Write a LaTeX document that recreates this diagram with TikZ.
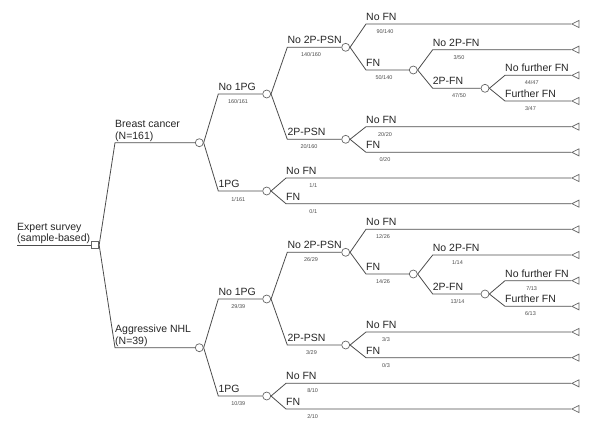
\documentclass[tikz,border=0pt]{standalone}
\usepackage{fontspec}
\setmainfont{Liberation Sans}
\usetikzlibrary{shapes.geometric}
\tikzset{
  x=1pt, y=-1pt,
  edge/.style={draw=black!70, line width=0.8pt},
  chance/.style={circle, draw=black!60, fill=white, line width=0.7pt, minimum size=8pt, inner sep=0pt},
  decis/.style={rectangle, draw=black!60, fill=white, line width=0.7pt, minimum size=7pt, inner sep=0pt},
  leaf/.style={isosceles triangle, isosceles triangle stretches, shape border rotate=180, draw=black!60, fill=white, line width=0.7pt, minimum width=7pt, minimum height=7pt, inner sep=0pt},
  lbl/.style={font=\fontsize{10.5}{11.5}\selectfont, text=black!85, inner sep=0pt},
  frac/.style={font=\fontsize{5.5}{6}\selectfont, text=black!70, inner sep=0pt},
}
% #1 parent, #2 name, #3 x, #4 y, #5 target anchor, #6 label, #7 fraction, #8 fx, #9 fy
\newcommand\tbr[9]{%
  \coordinate (#2) at (#3,#4);
  \draw[edge] (#1.east) -- (#2) -- (#5);
  \node[lbl, anchor=base west] (#2-l) at (#3,#4-3.5) {#6};
  \node[frac] (#2-f) at (#8,#9) {#7};
}
\begin{document}
\begin{tikzpicture}
\useasboundingbox (0,0) rectangle (600,432);
% decision node
\coordinate (r0) at (17,245);
\node[decis] (root) at (95.3,245) {};
\draw[edge] (r0) -- (root.west);
\node[lbl, anchor=base west] (rt1) at (17,230) {Expert survey};
\node[lbl, anchor=base west] (rt2) at (17,241.5) {(sample-based)};
% chance nodes
\node[chance] (bc) at (199.3,142.7) {};
\node[chance] (nhl) at (199.3,347.7) {};
\node[chance] (b1) at (266.7,94) {};
\node[chance] (b2) at (266.7,191) {};
\node[chance] (b11) at (345.7,47.3) {};
\node[chance] (b12) at (345.7,139.3) {};
\node[chance] (b112) at (413.3,70) {};
\node[chance] (b1122) at (485,88.3) {};
\node[chance] (n1) at (266.7,299) {};
\node[chance] (n2) at (266.7,396) {};
\node[chance] (n11) at (345.7,252.3) {};
\node[chance] (n12) at (345.7,345) {};
\node[chance] (n112) at (413.3,274) {};
\node[chance] (n1122) at (485,294) {};
% terminal nodes
\foreach \i in {1,...,16}{
  \node[leaf, anchor=apex] (L\i) at (571,{24+(\i-1)*25.667}) {};
}
% first level
\coordinate (s-bc) at (115,142.7);
\draw[edge] (root.east) -- (s-bc) -- (bc.west);
\node[lbl, anchor=base west] (bc-l1) at (115,127.7) {Breast cancer};
\node[lbl, anchor=base west] (bc-l2) at (115,139.2) {(N=161)};
\coordinate (s-nhl) at (115,347.7);
\draw[edge] (root.east) -- (s-nhl) -- (nhl.west);
\node[lbl, anchor=base west] (nhl-l1) at (115,332.7) {Aggressive NHL};
\node[lbl, anchor=base west] (nhl-l2) at (115,344.2) {(N=39)};
% breast cancer
\tbr{bc}{s-b1}{218.3}{94}{b1.west}{No 1PG}{160/161}{238}{101.7}
\tbr{bc}{s-b2}{218.3}{191}{b2.west}{1PG}{1/161}{238.3}{199.5}
\tbr{b1}{s-b11}{287.3}{47.3}{b11.west}{No 2P-PSN}{140/160}{311}{54.8}
\tbr{b1}{s-b12}{287.3}{139.3}{b12.west}{2P-PSN}{20/160}{309}{146.8}
\tbr{b11}{s-b111}{366}{24}{L1.apex}{No FN}{90/140}{385}{31.5}
\tbr{b11}{s-b112}{366}{70}{b112.west}{FN}{50/140}{384}{77.5}
\tbr{b112}{s-b1121}{432.7}{49.7}{L2.apex}{No 2P-FN}{3/50}{459}{57.2}
\tbr{b112}{s-b1122}{432.7}{88.3}{b1122.west}{2P-FN}{47/50}{459}{95.8}
\tbr{b1122}{s-b11221}{505}{75.3}{L3.apex}{No further FN}{44/47}{531.7}{82.8}
\tbr{b1122}{s-b11222}{505}{101}{L4.apex}{Further FN}{3/47}{530.5}{108.5}
\tbr{b12}{s-b121}{366}{126.7}{L5.apex}{No FN}{20/20}{385}{134.2}
\tbr{b12}{s-b122}{366}{152.3}{L6.apex}{FN}{0/20}{385}{159.8}
\tbr{b2}{s-b21}{286}{178}{L7.apex}{No FN}{1/1}{313.3}{185.5}
\tbr{b2}{s-b22}{286}{203.7}{L8.apex}{FN}{0/1}{313.3}{211.2}
% aggressive NHL
\tbr{nhl}{s-n1}{218.3}{299}{n1.west}{No 1PG}{29/39}{238.3}{306.5}
\tbr{nhl}{s-n2}{218.3}{396}{n2.west}{1PG}{10/39}{238.3}{403.5}
\tbr{n1}{s-n11}{287.3}{252.3}{n11.west}{No 2P-PSN}{26/29}{311}{259.8}
\tbr{n1}{s-n12}{287.3}{345}{n12.west}{2P-PSN}{3/29}{311.5}{352.5}
\tbr{n11}{s-n111}{366}{229.3}{L9.apex}{No FN}{12/26}{383}{236.8}
\tbr{n11}{s-n112}{366}{274}{n112.west}{FN}{14/26}{383}{281.5}
\tbr{n112}{s-n1121}{432.7}{255}{L10.apex}{No 2P-FN}{1/14}{457.5}{262.5}
\tbr{n112}{s-n1122}{432.7}{294}{n1122.west}{2P-FN}{13/14}{457.5}{301.5}
\tbr{n1122}{s-n11221}{505}{280.7}{L11.apex}{No further FN}{7/13}{531.7}{288.2}
\tbr{n1122}{s-n11222}{505}{306.3}{L12.apex}{Further FN}{6/13}{530.5}{313.8}
\tbr{n12}{s-n121}{366}{332}{L13.apex}{No FN}{3/3}{386}{339.5}
\tbr{n12}{s-n122}{366}{357.7}{L14.apex}{FN}{0/3}{386}{365.2}
\tbr{n2}{s-n21}{286}{383.3}{L15.apex}{No FN}{8/10}{312.7}{390.8}
\tbr{n2}{s-n22}{286}{409}{L16.apex}{FN}{2/10}{312.7}{416.5}
\end{tikzpicture}
\end{document}
